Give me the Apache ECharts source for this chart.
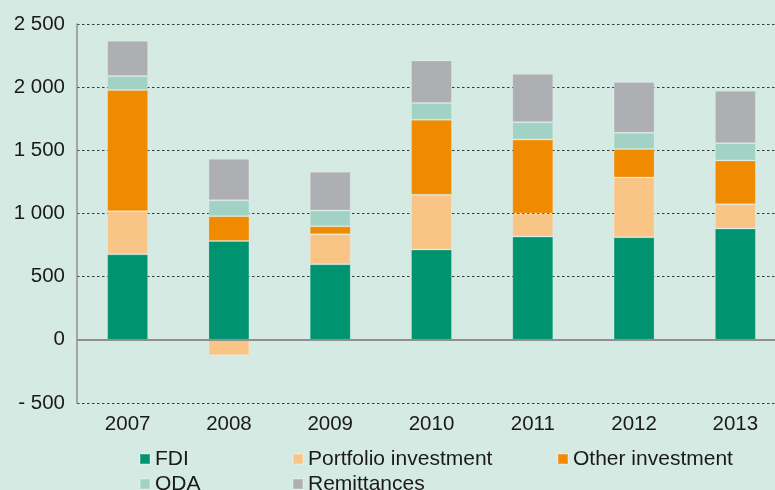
<!DOCTYPE html>
<html>
<head>
<meta charset="utf-8">
<title>Financial flows 2007–2013</title>
<script src="https://cdn.jsdelivr.net/npm/echarts@6/dist/echarts.min.js"></script>
<style>
  html, body { margin: 0; padding: 0; background: #d5eae3; }
  #chart { width: 775px; height: 490px; }
</style>
</head>
<body>
<div id="chart"></div>
<script>
// Categories and stacked components
const years = ['2007', '2008', '2009', '2010', '2011', '2012', '2013'];
const fdi         = [677, 783, 598, 715, 818, 812, 881];
const portfolio   = [341, -123, 238, 433, 182, 473, 193];
const otherInv    = [959, 196, 63, 594, 586, 225, 346];
const oda         = [111, 126, 125, 132, 137, 129, 137];
const remittances = [280, 328, 306, 338, 383, 401, 415];

// Value axis ticks
const yMin = -500, yMax = 2500, yStep = 500;
const yTickLabels = ['- 500', '0', '500', '1 000', '1 500', '2 000', '2 500'];

const colors = {
  fdi: '#00936f',
  portfolio: '#f9c586',
  other: '#f08a00',
  oda: '#a2d2c4',
  remit: '#aeafb3'
};

const fontFamily = '"Liberation Sans", Arial, Helvetica, sans-serif';
const textColor = '#1a1a1a';

function barSeries(name, data, color, extra) {
  return Object.assign({
    name: name,
    type: 'bar',
    stack: 'total',
    barWidth: 41,
    data: data,
    itemStyle: { color: color, borderColor: 'rgba(255,255,255,0.22)', borderWidth: 1 },
    emphasis: { disabled: true }
  }, extra || {});
}

// One vertical legend per column so the two rows line up
function legendColumn(left, names) {
  return {
    orient: 'vertical',
    left: left,
    top: 448.5,
    height: 100,
    itemWidth: 10,
    itemHeight: 10,
    itemGap: 4,
    icon: 'rect',
    selectedMode: false,
    padding: 0,
    textStyle: { fontFamily: fontFamily, fontSize: 21, color: textColor },
    data: names
  };
}

const chart = echarts.init(document.getElementById('chart'), null, { renderer: 'canvas' });

chart.setOption({
  backgroundColor: '#d5eae3',
  animation: false,
  // plot area runs a little past the right edge of the canvas
  grid: {
    left: 77, top: 24, width: 709, height: 379,
    containLabel: false,
    outerBoundsMode: 'none'
  },
  legend: [
    legendColumn(139, ['FDI', 'ODA']),
    legendColumn(292, ['Portfolio investment', 'Remittances']),
    legendColumn(557, ['Other investment'])
  ],
  xAxis: {
    type: 'category',
    data: years,
    axisLine: { show: false, onZero: false },
    axisTick: { show: false },
    axisLabel: {
      margin: 11,
      fontFamily: fontFamily,
      fontSize: 20.5,
      color: textColor
    }
  },
  yAxis: {
    type: 'value',
    min: yMin,
    max: yMax,
    interval: yStep,
    axisLine: { show: true, lineStyle: { color: '#8f8f8f', width: 1.5 } },
    axisTick: { show: false },
    axisLabel: {
      margin: 12,
      fontFamily: fontFamily,
      fontSize: 20.5,
      color: textColor,
      formatter: function (v) {
        return yTickLabels[Math.round((v - yMin) / yStep)];
      }
    },
    splitLine: {
      show: true,
      lineStyle: { color: '#3a3a3a', width: 1, type: [2.5, 2.5] }
    }
  },
  series: [
    barSeries('FDI', fdi, colors.fdi, {
      markLine: {
        silent: true,
        symbol: 'none',
        label: { show: false },
        lineStyle: { color: '#8f8f8f', width: 2, type: 'solid' },
        data: [{ yAxis: 0 }]
      }
    }),
    barSeries('Portfolio investment', portfolio, colors.portfolio),
    barSeries('Other investment', otherInv, colors.other),
    barSeries('ODA', oda, colors.oda),
    barSeries('Remittances', remittances, colors.remit)
  ]
});
</script>
</body>
</html>
